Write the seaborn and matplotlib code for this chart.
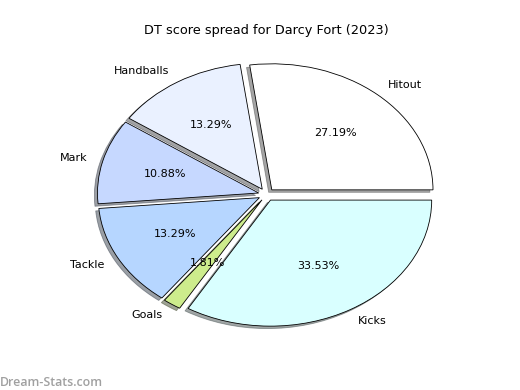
import matplotlib
matplotlib.use("Agg")
import matplotlib.pyplot as plt
import seaborn as sns

sns.set_theme(style="white")
plt.rcParams['font.family'] = ['DejaVu Sans']

labels = ["Hitout", "Handballs", "Mark", "Tackle", "Goals", "Kicks"]
values = [27.19, 13.29, 10.88, 13.29, 1.81, 33.53]
colors = ["#ffffff", "#eaf1ff", "#c6d8ff", "#b6d6ff", "#cdec8c", "#d9ffff"]
explode = [0.05, 0.05, 0.05, 0.05, 0.05, 0.05]

fig = plt.figure(figsize=(5.2, 3.9), dpi=100)
ax = fig.add_axes([0.125, 0.097, 0.775, 0.808])
ax.pie(values, labels=labels, colors=colors, explode=explode, autopct="%1.2f%%",
       shadow={"ox": -0.014, "oy": -0.014}, startangle=0, counterclock=True,
       wedgeprops=dict(edgecolor="black", linewidth=0.6),
       textprops=dict(fontsize=8, color="black"))
ax.set_aspect("auto")
ax.set_xlim(-1.25, 1.25)
ax.set_ylim(-1.25, 1.25)
ax.set_title("DT score spread for Darcy Fort (2023)", fontsize=9.3, pad=2, color="black")
fig.text(0.0, 0.003, "Dream-Stats.com", fontsize=8.9, color="#a0a0a0",
         family=["Open Sans", "DejaVu Sans"], ha="left", va="bottom", fontweight="semibold")
fig.savefig("out.png", dpi=100)
